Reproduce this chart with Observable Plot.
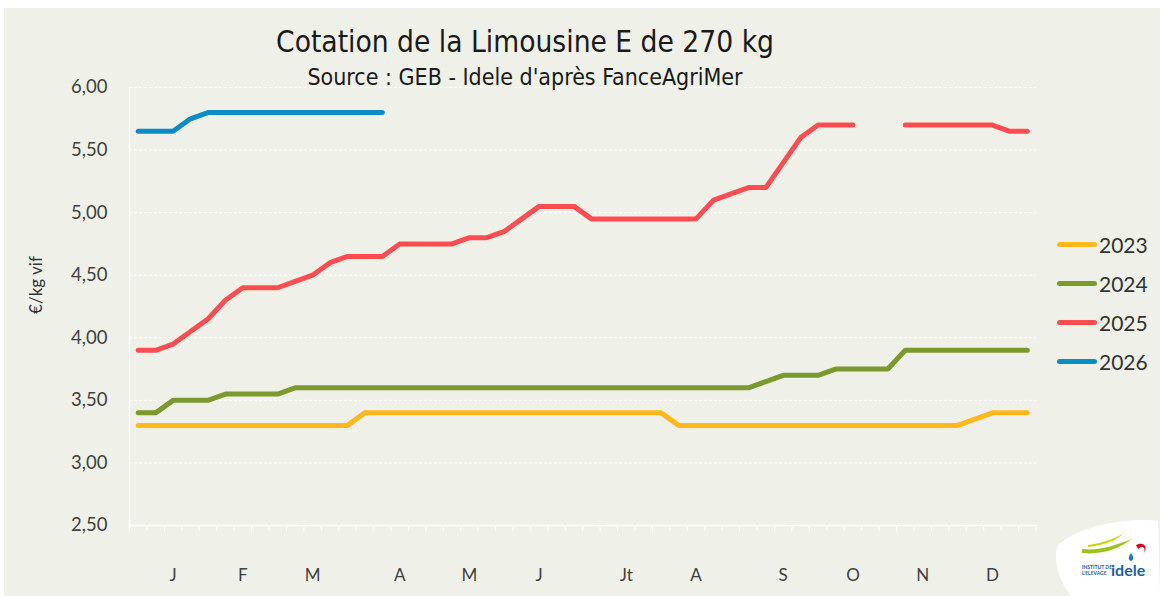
<!DOCTYPE html>
<html>
<head>
<meta charset="utf-8">
<script src="https://cdn.jsdelivr.net/npm/d3@7"></script>
<script src="https://cdn.jsdelivr.net/npm/@observablehq/plot@0.6"></script>
<style>
  html, body { margin: 0; padding: 0; background: #ffffff; width: 1160px; height: 596px; overflow: hidden; }
  #bg { position: absolute; left: 4px; top: 8px; width: 1156px; height: 588px; background: #EFF0E8; }
  #chart { position: absolute; left: 0; top: 0; }
  .t { position: absolute; left: 0; width: 1050px; text-align: center; color: #1a1a1a;
       font-family: "Liberation Sans Narrow", "DejaVu Sans Condensed", "Roboto", sans-serif; font-stretch: condensed; white-space: nowrap; }
  #title { top: 25px; font-size: 29.6px; line-height: 34px; }
  #subtitle { top: 63px; font-size: 23px; line-height: 28px; }
  #ylab { position: absolute; left: 35px; top: 285px; transform: translate(-50%, -50%) rotate(-90deg);
          font-family: Lato, sans-serif; font-size: 17px; color: #333; white-space: nowrap; }
  .leg { position: absolute; left: 1057px; font-family: Lato, sans-serif; font-size: 21px; color: #333; height: 24px; line-height: 24px; }
  .leg span.sw { position: absolute; left: 0; top: 9px; width: 40px; height: 5px; border-radius: 3px; }
  .leg span.lb { position: absolute; left: 42px; top: 0; }
  #logo { position: absolute; left: 1050px; top: 515px; }
</style>
</head>
<body>
<div id="bg"></div>
<div id="chart"></div>
<div id="title" class="t">Cotation de la Limousine E de 270 kg</div>
<div id="subtitle" class="t">Source : GEB - Idele d'après FanceAgriMer</div>
<div id="ylab">€/kg vif</div>
<div id="legend"></div>
<svg id="logo" width="110" height="81" viewBox="0 0 110 81">
  <path d="M8,30 C30,10 80,2 108,6 L110,81 L22,81 C10,70 2,45 8,30 Z" fill="#ffffff"/>
  <path d="M32,34 C50,36 66,30 82,24 C68,34 52,40 32,38 Z" fill="#9BC31C"/>
  <path d="M38,30 C52,28 64,24 74,18 C66,26 54,30 38,32 Z" fill="#C8D400"/>
  <path d="M86,30 C94,26 98,32 94,38 C96,32 92,30 88,34 Z" fill="#E2001A"/>
  <path d="M81,38 C84,42 84,45 81,46 C78,45 78,42 81,38 Z" fill="#1B7BC0"/>
  <text x="32" y="54" font-family="Lato, sans-serif" font-size="5" font-weight="bold" fill="#1B5FA6">INSTITUT DE</text>
  <text x="32" y="60" font-family="Lato, sans-serif" font-size="5" font-weight="bold" fill="#1B5FA6">L'ELEVAGE</text>
  <text x="61" y="61" font-family="Lato, sans-serif" font-size="16" font-weight="bold" fill="#1B5FA6">idele</text>
</svg>
<script>
// ---- Data (weekly quotations, €/kg vif) ----
const years = ["2023", "2024", "2025", "2026"];
const colors = ["#FFB71E", "#7B992C", "#FF4C50", "#0A8DC6"];

const v2023 = [3.30,3.30,3.30,3.30,3.30,3.30,3.30,3.30,3.30,3.30,3.30,3.30,3.30,
  3.40,3.40,3.40,3.40,3.40,3.40,3.40,3.40,3.40,3.40,3.40,3.40,3.40,3.40,3.40,3.40,3.40,3.40,
  3.30,3.30,3.30,3.30,3.30,3.30,3.30,3.30,3.30,3.30,3.30,3.30,3.30,3.30,3.30,3.30,3.30,
  3.35,3.40,3.40,3.40];
const v2024 = [3.40,3.40,3.50,3.50,3.50,3.55,3.55,3.55,3.55,
  3.60,3.60,3.60,3.60,3.60,3.60,3.60,3.60,3.60,3.60,3.60,3.60,3.60,3.60,3.60,3.60,3.60,3.60,
  3.60,3.60,3.60,3.60,3.60,3.60,3.60,3.60,3.60,
  3.65,3.70,3.70,3.70,3.75,3.75,3.75,3.75,
  3.90,3.90,3.90,3.90,3.90,3.90,3.90,3.90];
const v2025 = [3.90,3.90,3.95,4.05,4.15,4.30,4.40,4.40,4.40,4.45,4.50,4.60,4.65,4.65,4.65,
  4.75,4.75,4.75,4.75,4.80,4.80,4.85,4.95,5.05,5.05,5.05,
  4.95,4.95,4.95,4.95,4.95,4.95,4.95,
  5.10,5.15,5.20,5.20,5.40,5.60,5.70,5.70,5.70,
  null,null,
  5.70,5.70,5.70,5.70,5.70,5.70,5.65,5.65];
const v2026 = [5.65,5.65,5.65,5.75,5.80,5.80,5.80,5.80,5.80,5.80,5.80,5.80,5.80,5.80,5.80];

const monthWeeks = [3, 7, 11, 16, 20, 24, 29, 33, 38, 42, 46, 50];
const monthLabels = ["J", "F", "M", "A", "M", "J", "Jt", "A", "S", "O", "N", "D"];
const yTicks = [2.5, 3.0, 3.5, 4.0, 4.5, 5.0, 5.5, 6.0];

// ---- Build table ----
const series = [v2023, v2024, v2025, v2026];
const rows = [];
series.forEach((vals, k) => vals.forEach((v, i) => rows.push({year: years[k], week: i + 1, value: v})));
const labelMap = new Map(monthWeeks.map((w, i) => [w, monthLabels[i]]));
const boundaries = d3.range(0.5, 53, 1);

const chart = Plot.plot({
  width: 1160, height: 596,
  marginLeft: 129, marginRight: 124.5, marginTop: 87, marginBottom: 71,
  style: {background: "transparent", fontFamily: "Lato, sans-serif", overflow: "visible"},
  x: {domain: [0.5, 52.5], axis: null},
  y: {domain: [2.5, 6], axis: null},
  color: {domain: years, range: colors},
  marks: [
    Plot.ruleY(yTicks.filter(d => d > 2.5), {stroke: "#ffffff", strokeWidth: 1, strokeDasharray: "3,2"}),
    Plot.axisX(boundaries, {tickFormat: () => "", tickSize: 6, stroke: "#ffffff", strokeWidth: 1, label: null}),
    Plot.axisX(monthWeeks, {tickFormat: d => labelMap.get(d), tickSize: 0, tickPadding: 43, fontSize: 17, fill: "#404040", label: null}),
    Plot.axisY(yTicks, {tickFormat: d => d.toFixed(2).replace(".", ","), tickSize: 0, tickPadding: 22, fontSize: 18.5, fill: "#404040", label: null}),
    Plot.ruleY([2.5], {stroke: "#ffffff", strokeWidth: 1.5}),
    Plot.ruleX([0.5], {stroke: "#ffffff", strokeWidth: 1.5}),
    Plot.line(rows, {x: "week", y: "value", z: "year", stroke: "year", strokeWidth: 5,
      strokeLinecap: "round", strokeLinejoin: "round"})
  ]
});
document.getElementById("chart").appendChild(chart);

// ---- Legend ----
const legY = [233, 272, 311, 350];
const leg = document.getElementById("legend");
years.forEach((y, i) => {
  const d = document.createElement("div");
  d.className = "leg";
  d.style.top = legY[i] + "px";
  d.innerHTML = `<span class="sw" style="background:${colors[i]}"></span><span class="lb">${y}</span>`;
  leg.appendChild(d);
});
</script>
</body>
</html>
